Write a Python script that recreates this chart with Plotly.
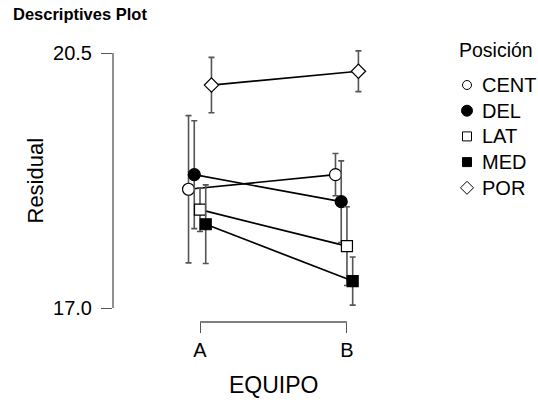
import plotly.graph_objects as go

# ---- data ----
categories = ["A", "B"]
series_names = ["CENT", "DEL", "LAT", "MED", "POR"]
cent_mean = [18.63, 18.83]
cent_err = [1.01, 0.29]
del_mean = [18.83, 18.46]
del_err = [0.74, 0.56]
lat_mean = [18.35, 17.85]
lat_err = [0.30, 0.54]
med_mean = [18.15, 17.37]
med_err = [0.54, 0.33]
por_mean = [20.06, 20.25]
por_err = [0.38, 0.28]
y_tick_vals = [17.0, 20.5]
y_tick_text = ["17.0", "20.5"]

means = [cent_mean, del_mean, lat_mean, med_mean, por_mean]
errs = [cent_err, del_err, lat_err, med_err, por_err]

# ---- styles ----
FONT = "Liberation Sans, Arial, sans-serif"
symbols = ["circle", "circle", "square", "square", "diamond"]
fills = ["#FFFFFF", "#000000", "#FFFFFF", "#000000", "#FFFFFF"]
sizes = [12, 12, 11, 11, 11]
leg_sizes = [9, 11, 9, 9, 10]
dodge = 0.039
AXIS_COLOR = "#555555"

W, H = 538, 400
ML, MT, MB = 113, 45, 78
PLOT_W = 287                      # width of the main panel in px
PANEL_W = W - ML                  # full width right of the left margin
PANEL_H = H - MT - MB

fig = go.Figure()
cat_pos = list(range(len(categories)))
for i, name in enumerate(series_names):
    off = (i - 2) * dodge
    fig.add_trace(go.Scatter(
        x=[p + off for p in cat_pos],
        y=means[i],
        name=name,
        mode="lines+markers",
        line=dict(color="black", width=1.7),
        marker=dict(symbol=symbols[i], size=sizes[i], color=fills[i],
                    line=dict(color="black", width=1.2)),
        error_y=dict(type="data", array=errs[i], visible=True,
                     color=AXIS_COLOR, thickness=1.6, width=3),
        showlegend=False,
        cliponaxis=False,
    ))

# ---- legend drawn in its own small panel (x2/y2 in pixel offsets) ----
LEG_X0 = 440
leg_rows = [40 + i * 25.7 for i in range(len(series_names))]
for i, name in enumerate(series_names):
    fig.add_trace(go.Scatter(
        x=[467 - LEG_X0], y=[leg_rows[i]], name=name,
        mode="markers", xaxis="x2", yaxis="y2", showlegend=False, hoverinfo="skip",
        marker=dict(symbol=symbols[i], size=leg_sizes[i], color=fills[i],
                    opacity=1, line=dict(color="#000000", width=1)),
        cliponaxis=False,
    ))

annotations = [
    dict(text="EQUIPO", xref="x", yref="paper", x=0.5, y=-(385 - (H - MB)) / PANEL_H,
         yanchor="middle", showarrow=False, font=dict(size=23, family=FONT)),
    dict(text="Residual", xref="paper", yref="paper", x=-(ML - 35) / PANEL_W,
         y=((H - MB) - 180.5) / PANEL_H, textangle=-90, xanchor="center",
         yanchor="middle", showarrow=False, font=dict(size=22, family=FONT)),
    dict(text="Posición", xref="x2", yref="y2", x=457 - LEG_X0, y=5,
         xanchor="left", yanchor="middle", showarrow=False,
         font=dict(size=19.5, family=FONT)),
]
for i, name in enumerate(series_names):
    annotations.append(dict(text=name, xref="x2", yref="y2", x=480 - LEG_X0,
                            y=leg_rows[i], xanchor="left", yanchor="middle",
                            showarrow=False, font=dict(size=20, family=FONT)))

# axis bracket lines
fig.add_shape(type="line", xref="x", yref="paper", x0=0, x1=1, y0=0, y1=0,
              line=dict(color=AXIS_COLOR, width=1.3))
fig.add_shape(type="line", xref="paper", yref="y", x0=0, x1=0,
              y0=y_tick_vals[0], y1=y_tick_vals[-1],
              line=dict(color=AXIS_COLOR, width=1.3))

fig.update_layout(
    width=W, height=H,
    margin=dict(l=ML, r=0, t=MT, b=MB),
    paper_bgcolor="white", plot_bgcolor="white",
    font=dict(family=FONT, color="black"),
    title=dict(text="<b>Descriptives Plot</b>", xref="container", yref="container",
               x=13 / W, xanchor="left", y=1 - 14 / H, yanchor="middle",
               font=dict(size=16.5, family=FONT, color="black")),
    xaxis=dict(domain=[0, PLOT_W / PANEL_W], range=[-0.592, 1.361],
               tickvals=cat_pos, ticktext=categories,
               showgrid=False, zeroline=False, showline=False,
               ticks="outside", ticklen=10, tickwidth=1.3, tickcolor=AXIS_COLOR,
               tickfont=dict(size=20, family=FONT, color="black"),
               ticklabelstandoff=0),
    yaxis=dict(range=[16.808, 20.61], tickvals=y_tick_vals, ticktext=y_tick_text,
               showgrid=False, zeroline=False, showline=False,
               ticks="outside", ticklen=11, tickwidth=1.3, tickcolor=AXIS_COLOR,
               tickfont=dict(size=20, family=FONT, color="black"),
               ticklabelstandoff=5),
    xaxis2=dict(domain=[(LEG_X0 - ML) / PANEL_W, 1], range=[0, W - LEG_X0],
                visible=False, fixedrange=True),
    yaxis2=dict(domain=[0, 1], range=[PANEL_H, 0], anchor="x2",
                visible=False, fixedrange=True),
    annotations=annotations,
    showlegend=False,
)

fig.write_html("out.html", config={"displayModeBar": False},
               post_script="document.body.style.margin='0';")
